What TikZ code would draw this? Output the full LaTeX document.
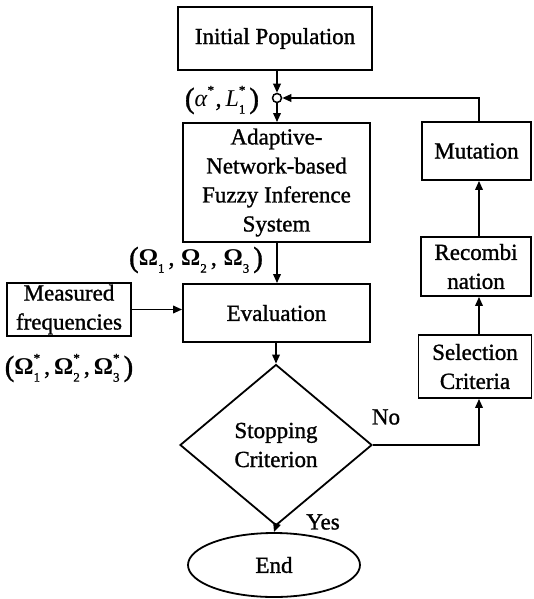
\documentclass[tikz,border=0pt]{standalone}
\usepackage{fontspec}
\setmainfont{Liberation Serif}[BoldFont={Liberation Serif}, BoldFeatures={FakeBold=1.2}]
\newfontfamily\omfont{Liberation Serif}[UprightFeatures={FakeBold=2.4}]
\usetikzlibrary{shapes.geometric,arrows.meta}

% stacked superscript / subscript after a symbol
\newcommand\supsub[2]{\rlap{\raisebox{0.5em}{\fontsize{13}{13}\selectfont #1}}%
  \raisebox{-0.3em}{\fontsize{13}{13}\selectfont #2}}
% large parentheses around a label
\newcommand\lpar{{\fontsize{29}{29}\selectfont\raisebox{-0.05em}{(}}}
\newcommand\rpar{{\fontsize{29}{29}\selectfont\raisebox{-0.05em}{)}}}
\newcommand\om{{\omfont Ω}}

\begin{document}
\begin{tikzpicture}[x=1pt,y=-1pt,
  every node/.style={font=\fontsize{23}{29}\selectfont\bfseries, align=center, inner sep=0pt},
  box/.style={draw, line width=1.8pt, rectangle},
  conn/.style={line width=1.8pt, -{Triangle[length=9pt,width=7.5pt]}},
  lbl/.style={font=\fontsize{24}{29}\selectfont\bfseries}]
\useasboundingbox (0,0) rectangle (533,599);

% main column
\node[box, minimum width=194pt, minimum height=63pt] (init) at (275,38.5) {Initial Population};
\node[draw, circle, line width=1.5pt, minimum size=9pt] (join) at (277,98) {};
\node[box, minimum width=187pt, minimum height=119pt] (anfis) at (276.5,182.5)
  {Adaptive-\\Network-based\\Fuzzy Inference\\System};
\node[box, minimum width=187pt, minimum height=58pt] (eval) at (276.5,313) {Evaluation};
\node[box, minimum width=123.5pt, minimum height=53pt] (meas) at (69,309.5)
  {Measured\\frequencies};
\node[draw, diamond, line width=1.8pt, minimum width=192pt, minimum height=161pt] (stop)
  at (276,445) {Stopping\\Criterion};
\node[draw, ellipse, line width=1.8pt, minimum width=172pt, minimum height=64pt] (end)
  at (274,565) {End};

% genetic operators on the right
\node[box, minimum width=109pt, minimum height=58pt] (mut) at (476.5,151) {Mutation};
\node[box, minimum width=110pt, minimum height=59pt] (rec) at (476,266.5) {Recombi\\nation};
\node[box, minimum width=113pt, minimum height=63pt] (sel) at (475,366.5) {Selection\\Criteria};
\coordinate (rail) at (479,0);

% labels
\node[lbl] (lalpha) at (222,100) {\lpar\textit{α}\supsub{*}{}\,\,,\,\textit{L}\supsub{*}{1}\,\rpar};
\node[lbl] (lomega) at (196,260)
  {\lpar\om\supsub{}{1}\,,\;\om\supsub{}{2}\,,\;\om\supsub{}{3}\,\rpar};
\node[lbl] (lmeas) at (69,368)
  {\lpar\om\supsub{*}{1}\,,\,\om\supsub{*}{2}\,,\,\om\supsub{*}{3}\,\rpar};
\node (lno) at (386,417) {No};
\node (lyes) at (323,522) {Yes};

% connectors
\draw[conn] (join |- init.south) -- (join.north);
\draw[conn] (join.south) -- (join |- anfis.north);
\draw[conn] (rail |- mut.north) -- (rail |- join) -- (join.east);
\draw[conn] (join |- anfis.south) -- (join |- eval.north);
\draw[conn] (meas.east) -- (meas.east -| eval.west);
\draw[conn] (stop.north |- eval.south) -- (stop.north);
\draw[conn] (stop.east) -- (rail |- stop.east) -- (rail |- sel.south);
\draw[conn] (rail |- sel.north) -- (rail |- rec.south);
\draw[conn] (rail |- rec.north) -- (rail |- mut.south);
\draw[conn] (stop.south) -- (end.north);
\end{tikzpicture}
\end{document}
